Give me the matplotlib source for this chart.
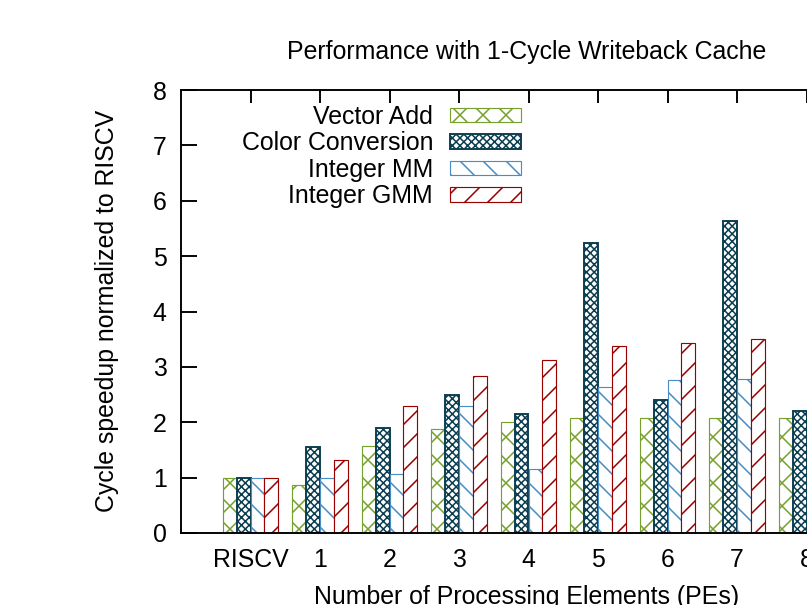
import matplotlib
matplotlib.use("Agg")
import matplotlib.pyplot as plt
import numpy as np

# values
groups = ["RISCV", "1", "2", "3", "4", "5", "6", "7", "8"]
vector_add = [1.00, 0.86, 1.58, 1.87, 2.00, 2.07, 2.07, 2.07, 2.07]
color_conv = [1.00, 1.56, 1.89, 2.50, 2.14, 5.24, 2.41, 5.63, 2.21]
integer_mm = [1.00, 1.00, 1.06, 2.30, 1.15, 2.64, 2.77, 2.79, 1.14]
integer_gmm = [1.00, 1.32, 2.30, 2.84, 3.12, 3.37, 3.44, 3.51, 3.55]

series = [
    ("Vector Add", vector_add, "#76a12c", "xx", 0.6),
    ("Color Conversion", color_conv, "#0a3d50", "xxxxxx", 1.0),
    ("Integer MM", integer_mm, "#4a8cc4", "\\\\", 0.6),
    ("Integer GMM", integer_gmm, "#990000", "//", 0.6),
]

W, H, DPI = 807, 605, 138
plt.rcParams["font.family"] = ["Liberation Sans", "DejaVu Sans"]
plt.rcParams["font.size"] = 13
plt.rcParams["hatch.linewidth"] = 0.8

fig = plt.figure(figsize=(W / DPI, H / DPI), dpi=DPI)
# axes in pixel coordinates; the right side runs off the canvas like the reference
left, right, top, bottom = 181, 876, 90, 533
ax = fig.add_axes([left / W, (H - bottom) / H, (right - left) / W, (bottom - top) / H])

x = np.arange(len(groups))
width = 0.2
for i, (label, vals, color, hatch, lw) in enumerate(series):
    ax.bar(x + (i - 1.5) * width, vals, width, facecolor="white", edgecolor=color,
           hatch=hatch, linewidth=lw, label=label)

ax.set_xlim(-1, 9)
ax.set_ylim(0, 8)
ax.set_yticks(range(0, 9))
ax.set_xticks(x)
ax.set_xticklabels(groups)
ax.tick_params(axis="y", direction="in", length=8.5, width=1.0, pad=7.5, left=True, right=True)
ax.tick_params(axis="x", direction="in", length=7, width=1.0, pad=8, bottom=False, top=True)
for sp in ax.spines.values():
    sp.set_linewidth(1.0)

fig.text(527 / W, 1 - 52 / H, "Performance with 1-Cycle Writeback Cache",
         ha="center", va="center", fontsize=13)
fig.text(107 / W, 1 - 311 / H, "Cycle speedup normalized to RISCV",
         ha="center", va="center", rotation=90, fontsize=13)
fig.text(527 / W, 1 - 597 / H, "Number of Processing Elements (PEs)",
         ha="center", va="center", fontsize=13)

ax.legend(loc="upper right", bbox_to_anchor=(521 / W, 1 - 105 / H),
          bbox_transform=fig.transFigure, frameon=False, markerfirst=False,
          borderpad=0, borderaxespad=0, handlelength=2.85, handleheight=0.52,
          handletextpad=0.68, labelspacing=0.1, fontsize=13)

fig.savefig("out.png", dpi=DPI)
